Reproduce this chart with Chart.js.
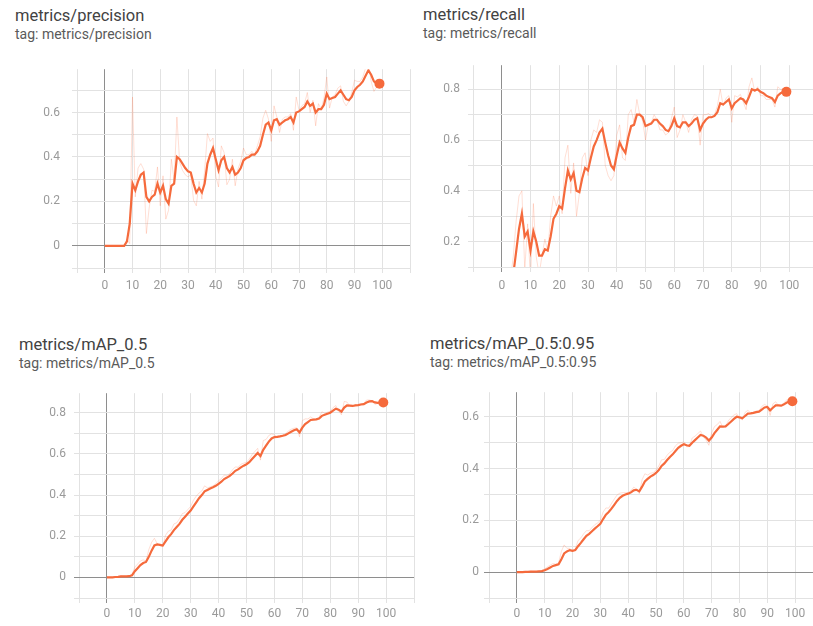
<!DOCTYPE html>
<html>
<head>
<meta charset="utf-8">
<script src="https://cdn.jsdelivr.net/npm/chart.js@4.4.1/dist/chart.umd.min.js"></script>
<style>
  html, body { margin: 0; padding: 0; background: #fff; overflow: hidden; }
  body { width: 813px; height: 626px; position: relative; font-family: Roboto, "Open Sans", sans-serif; }
  canvas { position: absolute; }
  .title { position: absolute; font-size: 16.5px; color: #424242; line-height: 18px; white-space: nowrap; }
  .tag { position: absolute; font-size: 14px; color: #5a5a5a; line-height: 14px; white-space: nowrap; }
</style>
</head>
<body>
<div class="title" style="left:15px; top:7px;">metrics/precision</div>
<div class="tag" style="left:15px; top:27px;">tag: metrics/precision</div>
<div class="title" style="left:423px; top:6px;">metrics/recall</div>
<div class="tag" style="left:423px; top:26px;">tag: metrics/recall</div>
<div class="title" style="left:19px; top:336px;">metrics/mAP_0.5</div>
<div class="tag" style="left:19px; top:356px;">tag: metrics/mAP_0.5</div>
<div class="title" style="left:430px; top:335px;">metrics/mAP_0.5:0.95</div>
<div class="tag" style="left:430px; top:355px;">tag: metrics/mAP_0.5:0.95</div>

<canvas id="precision" width="416" height="250" style="left:0px; top:50px;"></canvas>
<canvas id="recall" width="430" height="250" style="left:400px; top:50px;"></canvas>
<canvas id="map50" width="420" height="250" style="left:0px; top:378px;"></canvas>
<canvas id="map5095" width="430" height="246" style="left:405px; top:380px;"></canvas>

<script>
Chart.defaults.font.family = 'Roboto';

epochs = Array.from({ length: 100 }, (_, i) => i)
xTicks = [-10, 0, 10, 20, 30, 40, 50, 60, 70, 80, 90, 100, 110]

precisionYTicks = [-0.1, 0, 0.1, 0.2, 0.3, 0.4, 0.5, 0.6, 0.7]
recallYTicks = [0.1, 0.2, 0.3, 0.4, 0.5, 0.6, 0.7, 0.8]
map50YTicks = [-0.1, 0, 0.1, 0.2, 0.3, 0.4, 0.5, 0.6, 0.7, 0.8]
map5095YTicks = [-0.1, 0, 0.1, 0.2, 0.3, 0.4, 0.5, 0.6]

// smoothed (bold) and raw (faint) values, epoch 0..99
precisionSmooth = [0, 0, 0, 0, 0, 0, 0, 0, 0.02, 0.1,
    0.28, 0.25, 0.29, 0.32, 0.33, 0.22, 0.2, 0.22, 0.23, 0.28,
    0.24, 0.27, 0.21, 0.19, 0.27, 0.28, 0.4, 0.39, 0.37, 0.35,
    0.335, 0.33, 0.28, 0.24, 0.26, 0.24, 0.28, 0.37, 0.41, 0.44,
    0.39, 0.34, 0.385, 0.4, 0.35, 0.33, 0.355, 0.32, 0.33, 0.35,
    0.385, 0.395, 0.4, 0.41, 0.41, 0.425, 0.45, 0.5, 0.545, 0.555,
    0.52, 0.565, 0.57, 0.545, 0.555, 0.565, 0.57, 0.58, 0.555, 0.6,
    0.605, 0.615, 0.625, 0.65, 0.63, 0.64, 0.6, 0.615, 0.615, 0.635,
    0.685, 0.66, 0.665, 0.67, 0.685, 0.7, 0.68, 0.66, 0.655, 0.67,
    0.7, 0.715, 0.725, 0.74, 0.765, 0.79, 0.77, 0.74, 0.73, 0.73]
precisionRaw = [0, 0, 0, 0, 0, 0, 0, 0, 0.03, 0.01,
    0.67, 0.22, 0.35, 0.37, 0.345, 0.055, 0.17, 0.25, 0.245, 0.355,
    0.18, 0.315, 0.12, 0.16, 0.39, 0.295, 0.58, 0.375, 0.34, 0.32,
    0.31, 0.32, 0.205, 0.18, 0.29, 0.21, 0.34, 0.505, 0.47, 0.485,
    0.315, 0.265, 0.45, 0.42, 0.275, 0.3, 0.39, 0.27, 0.345, 0.38,
    0.44, 0.41, 0.41, 0.425, 0.41, 0.45, 0.49, 0.575, 0.61, 0.57,
    0.47, 0.63, 0.58, 0.51, 0.57, 0.58, 0.58, 0.595, 0.52, 0.67,
    0.61, 0.63, 0.64, 0.69, 0.6, 0.655, 0.54, 0.64, 0.615, 0.665,
    0.76, 0.62, 0.67, 0.68, 0.71, 0.72, 0.65, 0.63, 0.65, 0.69,
    0.745, 0.74, 0.74, 0.76, 0.8, 0.83, 0.74, 0.695, 0.715, 0.73]

recallSmooth = [0, 0, 0, 0.02, 0.07, 0.16, 0.25, 0.31, 0.22, 0.24,
    0.165, 0.24, 0.2, 0.145, 0.145, 0.17, 0.165, 0.22, 0.29, 0.31,
    0.34, 0.33, 0.41, 0.48, 0.445, 0.47, 0.4, 0.395, 0.45, 0.49,
    0.48, 0.53, 0.575, 0.6, 0.63, 0.645, 0.59, 0.54, 0.5, 0.485,
    0.54, 0.59, 0.567, 0.55, 0.61, 0.655, 0.66, 0.7, 0.7, 0.69,
    0.655, 0.66, 0.665, 0.68, 0.68, 0.665, 0.655, 0.64, 0.635, 0.655,
    0.686, 0.655, 0.65, 0.67, 0.67, 0.655, 0.665, 0.68, 0.686, 0.64,
    0.665, 0.68, 0.69, 0.69, 0.695, 0.71, 0.745, 0.74, 0.75, 0.76,
    0.725, 0.745, 0.755, 0.765, 0.76, 0.745, 0.77, 0.8, 0.795, 0.8,
    0.79, 0.785, 0.775, 0.77, 0.765, 0.75, 0.775, 0.785, 0.79, 0.79]
recallRaw = [0, 0, 0, 0.05, 0.14, 0.28, 0.38, 0.4, 0.09, 0.27,
    0.05, 0.35, 0.14, 0.07, 0.145, 0.21, 0.16, 0.3, 0.38, 0.34,
    0.38, 0.31, 0.53, 0.58, 0.39, 0.51, 0.3, 0.39, 0.53, 0.55,
    0.46, 0.6, 0.64, 0.63, 0.68, 0.67, 0.5, 0.46, 0.44, 0.46,
    0.62, 0.66, 0.53, 0.52, 0.7, 0.72, 0.67, 0.76, 0.7, 0.675,
    0.6, 0.665, 0.67, 0.7, 0.68, 0.64, 0.64, 0.62, 0.63, 0.685,
    0.73, 0.61, 0.64, 0.7, 0.67, 0.63, 0.68, 0.7, 0.695, 0.58,
    0.7, 0.7, 0.705, 0.69, 0.7, 0.735, 0.8, 0.735, 0.765, 0.775,
    0.67, 0.775, 0.77, 0.78, 0.75, 0.72, 0.81, 0.845, 0.79, 0.81,
    0.775, 0.775, 0.76, 0.76, 0.76, 0.73, 0.81, 0.8, 0.8, 0.79]

map50Smooth = [0, 0, 0, 0.002, 0.003, 0.005, 0.005, 0.005, 0.006, 0.01,
    0.03, 0.045, 0.06, 0.07, 0.075, 0.1, 0.13, 0.155, 0.16, 0.158,
    0.155, 0.175, 0.195, 0.21, 0.23, 0.245, 0.26, 0.28, 0.295, 0.31,
    0.325, 0.345, 0.365, 0.385, 0.4, 0.418, 0.425, 0.432, 0.438, 0.445,
    0.455, 0.465, 0.478, 0.485, 0.493, 0.505, 0.518, 0.525, 0.535, 0.543,
    0.55, 0.56, 0.575, 0.59, 0.605, 0.59, 0.62, 0.64, 0.66, 0.675,
    0.682, 0.683, 0.685, 0.688, 0.692, 0.7, 0.708, 0.715, 0.72, 0.705,
    0.728, 0.745, 0.755, 0.765, 0.767, 0.768, 0.772, 0.785, 0.79, 0.795,
    0.8, 0.81, 0.82, 0.815, 0.805, 0.825, 0.836, 0.835, 0.833, 0.836,
    0.837, 0.84, 0.842, 0.85, 0.855, 0.856, 0.85, 0.848, 0.85, 0.85]
map50Raw = [0, 0, 0, 0.003, 0.004, 0.007, 0.005, 0.005, 0.007, 0.015,
    0.05, 0.065, 0.08, 0.085, 0.08, 0.135, 0.17, 0.19, 0.165, 0.155,
    0.15, 0.205, 0.225, 0.23, 0.26, 0.265, 0.285, 0.31, 0.315, 0.33,
    0.345, 0.375, 0.395, 0.41, 0.42, 0.445, 0.435, 0.44, 0.445, 0.455,
    0.47, 0.48, 0.497, 0.495, 0.505, 0.523, 0.537, 0.535, 0.55, 0.555,
    0.56, 0.575, 0.597, 0.612, 0.627, 0.57, 0.665, 0.67, 0.69, 0.697,
    0.692, 0.685, 0.688, 0.692, 0.698, 0.712, 0.72, 0.725, 0.727, 0.683,
    0.762, 0.77, 0.77, 0.78, 0.77, 0.77, 0.778, 0.805, 0.797, 0.803,
    0.807, 0.825, 0.835, 0.808, 0.79, 0.855, 0.852, 0.833, 0.83, 0.84,
    0.838, 0.845, 0.845, 0.862, 0.862, 0.858, 0.841, 0.845, 0.853, 0.85]

map5095Smooth = [0, 0, 0, 0.001, 0.001, 0.002, 0.002, 0.002, 0.003, 0.004,
    0.007, 0.012, 0.018, 0.024, 0.027, 0.03, 0.05, 0.072, 0.08, 0.085,
    0.082, 0.085, 0.1, 0.113, 0.127, 0.14, 0.148, 0.158, 0.168, 0.177,
    0.187, 0.205, 0.222, 0.232, 0.245, 0.26, 0.275, 0.287, 0.295, 0.3,
    0.303, 0.308, 0.316, 0.318, 0.312, 0.33, 0.35, 0.36, 0.369, 0.375,
    0.383, 0.394, 0.41, 0.42, 0.433, 0.445, 0.455, 0.468, 0.48, 0.488,
    0.494, 0.49, 0.488, 0.5, 0.51, 0.52, 0.53, 0.527, 0.52, 0.508,
    0.52, 0.537, 0.55, 0.563, 0.562, 0.563, 0.572, 0.582, 0.592, 0.6,
    0.598, 0.594, 0.603, 0.612, 0.613, 0.615, 0.618, 0.62, 0.628, 0.636,
    0.638, 0.625, 0.635, 0.644, 0.644, 0.643, 0.648, 0.655, 0.658, 0.66]
map5095Raw = [0, 0, 0, 0.001, 0.001, 0.003, 0.002, 0.002, 0.004, 0.006,
    0.012, 0.02, 0.027, 0.033, 0.031, 0.035, 0.08, 0.105, 0.092, 0.092,
    0.078, 0.09, 0.122, 0.132, 0.148, 0.16, 0.16, 0.172, 0.183, 0.19,
    0.2, 0.232, 0.248, 0.247, 0.265, 0.282, 0.298, 0.305, 0.307, 0.307,
    0.307, 0.315, 0.328, 0.321, 0.303, 0.357, 0.38, 0.375, 0.382, 0.384,
    0.395, 0.41, 0.434, 0.435, 0.452, 0.463, 0.47, 0.488, 0.498, 0.5,
    0.503, 0.484, 0.485, 0.518, 0.525, 0.535, 0.545, 0.522, 0.51, 0.49,
    0.538, 0.562, 0.57, 0.582, 0.56, 0.565, 0.585, 0.597, 0.607, 0.612,
    0.595, 0.588, 0.617, 0.625, 0.615, 0.618, 0.622, 0.623, 0.64, 0.648,
    0.641, 0.605, 0.65, 0.658, 0.644, 0.642, 0.655, 0.665, 0.662, 0.663]

var lineColor = '#f56a3c'
var rawColor = 'rgba(255, 120, 80, 0.24)'
var gridColor = '#e2e2e2'
var zeroColor = '#8e8e8e'

function toPoints(values) {
    return values.map((v, i) => ({ x: epochs[i], y: v }))
}

function makeChart(id, smooth, raw, yMin, yMax, yTicks, box) {
    var ctx = document.getElementById(id).getContext('2d');
    return new Chart(ctx, {
        type: 'line',
        data: {
            datasets: [
                {
                    data: toPoints(smooth),
                    borderColor: lineColor,
                    backgroundColor: lineColor,
                    borderWidth: 2.2,
                    tension: 0,
                    pointRadius: (c) => c.dataIndex === smooth.length - 1 ? 5 : 0,
                    pointBorderWidth: 0,
                    pointBackgroundColor: lineColor
                },
                {
                    data: toPoints(raw),
                    borderColor: rawColor,
                    borderWidth: 1,
                    tension: 0,
                    pointRadius: 0
                }
            ]
        },
        options: {
            responsive: false,
            animation: false,
            devicePixelRatio: 1,
            layout: {
                padding: { top: 5, right: box.padRight, left: 0, bottom: 0 }
            },
            plugins: {
                legend: { display: false },
                tooltip: { enabled: false }
            },
            scales: {
                x: {
                    type: 'linear',
                    min: -10,
                    max: 110,
                    afterBuildTicks: (s) => { s.ticks = xTicks.map(v => ({ value: v })) },
                    afterFit: (s) => { s.height = box.xHeight },
                    border: { display: false },
                    grid: {
                        color: (c) => c.tick && c.tick.value === 0 ? zeroColor : gridColor,
                        tickLength: 5,
                        lineWidth: 1
                    },
                    ticks: {
                        maxRotation: 0,
                        autoSkip: false,
                        padding: box.xPad,
                        color: '#9a9a9a',
                        font: { size: 12 },
                        callback: (v) => (v < 0 || v > 100) ? '' : String(v)
                    }
                },
                y: {
                    min: yMin,
                    max: yMax,
                    afterBuildTicks: (s) => { s.ticks = yTicks.map(v => ({ value: v })) },
                    afterFit: (s) => { s.width = box.yWidth },
                    border: { display: false },
                    grid: {
                        color: (c) => c.tick && Math.abs(c.tick.value) < 1e-9 ? zeroColor : gridColor,
                        tickLength: 5,
                        lineWidth: 1
                    },
                    ticks: {
                        autoSkip: false,
                        padding: box.yPad,
                        color: '#9a9a9a',
                        font: { size: 12 },
                        callback: (v) => {
                            var k = Math.round(v * 10);
                            if (k % 2 !== 0) return '';
                            return String(k / 10);
                        }
                    }
                }
            }
        }
    })
}

var precisionChart = makeChart('precision', precisionSmooth, precisionRaw, -0.1, 0.795, precisionYTicks,
    { padRight: 6, yWidth: 77, xHeight: 32, xPad: 6, yPad: 12 })
var recallChart = makeChart('recall', recallSmooth, recallRaw, 0.1, 0.895, recallYTicks,
    { padRight: 12, yWidth: 73, xHeight: 33, xPad: 7, yPad: 8 })
var map50Chart = makeChart('map50', map50Smooth, map50Raw, -0.1, 0.895, map50YTicks,
    { padRight: 6, yWidth: 79, xHeight: 30, xPad: 4, yPad: 8 })
var map5095Chart = makeChart('map5095', map5095Smooth, map5095Raw, -0.1, 0.695, map5095YTicks,
    { padRight: 12, yWidth: 84, xHeight: 28, xPad: 4, yPad: 5 })
</script>
</body>
</html>
